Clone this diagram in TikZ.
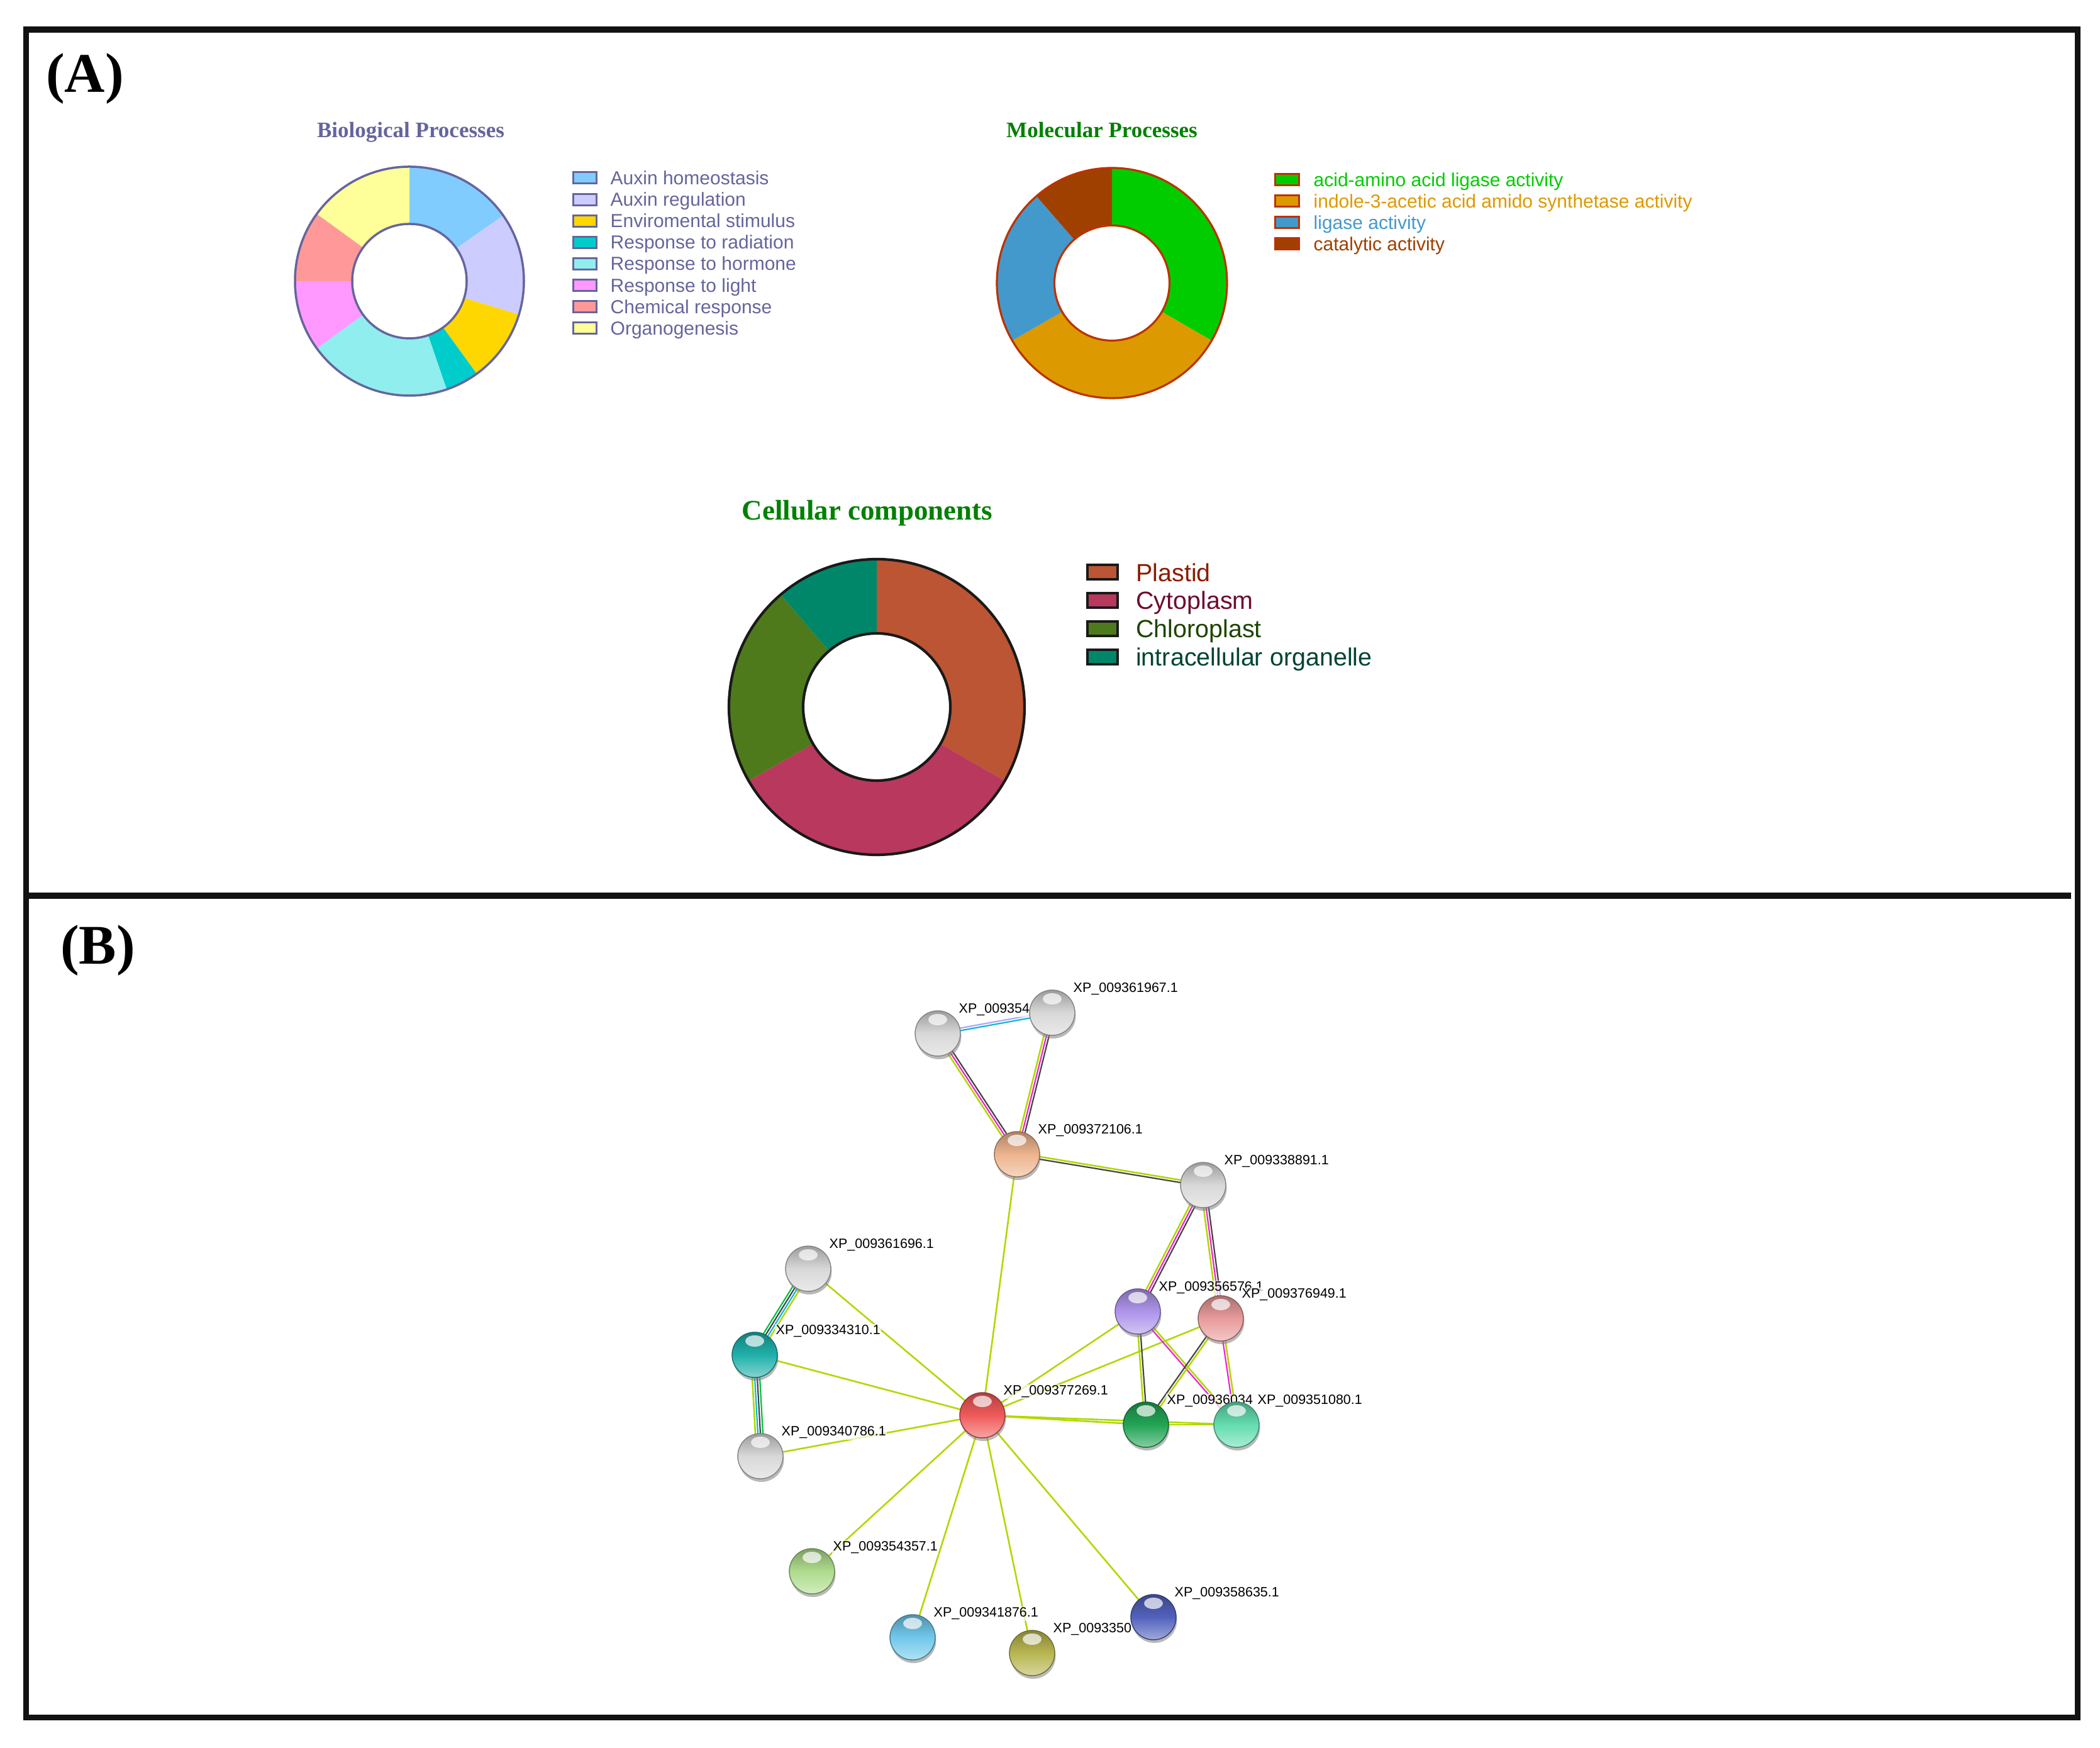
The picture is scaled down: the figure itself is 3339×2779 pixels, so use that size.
\documentclass[tikz,border=0pt]{standalone}
\usepackage{fontspec}
\setmainfont{Liberation Serif}
\setsansfont{Liberation Sans}
\usepackage{tikz}
\usetikzlibrary{calc,positioning,shadows}
\pgfdeclarelayer{edges}
\pgfdeclarelayer{labels}
\pgfsetlayers{edges,labels,main}

\definecolor{bioInk}{HTML}{65659D}
\definecolor{bioHom}{HTML}{80CCFF}
\definecolor{bioReg}{HTML}{CCCCFF}
\definecolor{bioEnv}{HTML}{FFD700}
\definecolor{bioRad}{HTML}{00CCCC}
\definecolor{bioHor}{HTML}{90EEEE}
\definecolor{bioLig}{HTML}{FF99FF}
\definecolor{bioChe}{HTML}{FF9999}
\definecolor{bioOrg}{HTML}{FFFF99}
\definecolor{molInk}{HTML}{BB3300}
\definecolor{molLig}{HTML}{00CC00}
\definecolor{molIaa}{HTML}{DD9900}
\definecolor{molGen}{HTML}{4499CC}
\definecolor{molCat}{HTML}{A04000}
\definecolor{ttlGreen}{HTML}{008000}
\definecolor{celPla}{HTML}{BB5533}
\definecolor{celCyt}{HTML}{B9385E}
\definecolor{celChl}{HTML}{4E7A1C}
\definecolor{celOrg}{HTML}{00876A}
\definecolor{celPlaT}{HTML}{8B1C00}
\definecolor{celCytT}{HTML}{6E0A30}
\definecolor{celChlT}{HTML}{1F4400}
\definecolor{celOrgT}{HTML}{004434}
\definecolor{tmCol}{HTML}{B0D800}
\definecolor{cxCol}{HTML}{444444}
\definecolor{exCol}{HTML}{F020D8}
\definecolor{dbCol}{HTML}{10B4D8}
\definecolor{nbCol}{HTML}{00C040}
\definecolor{hmCol}{HTML}{A8A8FF}
\definecolor{protGray}{HTML}{D8D8D8}
\definecolor{protPeach}{HTML}{EDB48E}
\definecolor{protTeal}{HTML}{20B0AA}
\definecolor{protRed}{HTML}{F05A5A}
\definecolor{protPurple}{HTML}{AE94EA}
\definecolor{protPink}{HTML}{E89A9A}
\definecolor{protGreen}{HTML}{22A455}
\definecolor{protAqua}{HTML}{64DDB0}
\definecolor{protLime}{HTML}{AEDC8C}
\definecolor{protSky}{HTML}{70C8EA}
\definecolor{protOlive}{HTML}{B8B650}
\definecolor{protNavy}{HTML}{5262BC}

\begin{document}
\begin{tikzpicture}[x=1pt, y=1pt]
  \tikzstyle{frame}=[draw=black!93, line width=9.5]
  \tikzstyle{panel}=[inner sep=0, font=\fontsize{89}{100}\selectfont\bfseries]
  \tikzstyle{ttl}=[inner sep=0, anchor=base, font=\fontsize{35}{40}\selectfont\bfseries]
  \tikzstyle{legtext}=[inner sep=0, anchor=base west, font=\fontsize{30}{34}\selectfont\sffamily]
  \tikzstyle{bioKey}=[draw=bioInk, line width=3, minimum width=37, minimum height=18, inner sep=0]
  \tikzstyle{molKey}=[draw=molInk, line width=3, minimum width=38, minimum height=18, inner sep=0]
  \tikzstyle{celKey}=[draw=black!90, line width=4, minimum width=48, minimum height=23, inner sep=0]
  \tikzstyle{plabel}=[inner sep=1.5, fill=white, fill opacity=0.7, text opacity=1, font=\fontsize{21.5}{24}\selectfont\sffamily]
  \tikzstyle{tm}=[draw=tmCol, line width=2.6]
  \tikzstyle{cx}=[draw=cxCol, line width=2.2]
  \tikzstyle{ex}=[draw=exCol, line width=2.2]
  \tikzstyle{db}=[draw=dbCol, line width=2.2]
  \tikzstyle{nb}=[draw=nbCol, line width=2.2]
  \tikzstyle{hm}=[draw=hmCol, line width=2.2]
  \tikzset{prot/.style={circle, minimum size=72, inner sep=0, line width=1.4,
      draw=#1!60!black, top color=#1!72!black, bottom color=#1!55!white, middle color=#1,
      drop shadow={shadow xshift=1.5, shadow yshift=-5, opacity=0.55},
      path picture={\fill[white, fill opacity=0.7] ([yshift=-14]path picture bounding box.north) ellipse (15 and 9);}}}

  \useasboundingbox (0,0) rectangle (3339,2779);

  % frames
  \draw[frame] (41.5,48.5) rectangle (3303.5,2732);
  \draw[frame] (41.5,1355) -- (3293,1355);
  \node[panel, anchor=base west] (pa) at (73,2632) {(A)};
  \node[panel, anchor=base west] (pb) at (96,1246) {(B)};

  % biological processes
  \node[ttl, text=bioInk] (bt) at (653,2560) {Biological Processes};
  \begin{scope}[shift={(651,2332)}]
    \foreach \s/\e/\c in {90/35/bioHom, 35/-17/bioReg, -17/-54/bioEnv, -54/-71/bioRad,
        -71/-144/bioHor, -144/-180/bioLig, 180/144/bioChe, 144/90/bioOrg}
      \fill[\c] (\s:182) arc[start angle=\s, end angle=\e, radius=182]
        -- (\e:91) arc[start angle=\e, end angle=\s, radius=91] -- cycle;
    \draw[bioInk, line width=3.5] (0,0) circle (182) (0,0) circle (91);
  \end{scope}
  \foreach \c/\t [count=\i] in {bioHom/Auxin homeostasis, bioReg/Auxin regulation,
      bioEnv/Enviromental stimulus, bioRad/Response to radiation, bioHor/Response to hormone,
      bioLig/Response to light, bioChe/Chemical response, bioOrg/Organogenesis} {
    \node[bioKey, fill=\c] (bk\i) at (929.5,2530.1-34.1*\i) {};
    \node[legtext, text=bioInk, right=21pt of bk\i, anchor=base west, yshift=-10.6] {\t};
  }

  % molecular processes
  \node[ttl, text=ttlGreen] (mt) at (1752,2560) {Molecular Processes};
  \begin{scope}[shift={(1768,2329)}]
    \foreach \s/\e/\c in {90/-30/molLig, -30/-150/molIaa, 210/131/molGen, 131/90/molCat}
      \fill[\c] (\s:183) arc[start angle=\s, end angle=\e, radius=183]
        -- (\e:91.5) arc[start angle=\e, end angle=\s, radius=91.5] -- cycle;
    \draw[molInk, line width=3.2] (0,0) circle (183) (0,0) circle (91.5);
  \end{scope}
  \foreach \c/\t [count=\i] in {molLig/acid-amino acid ligase activity,
      molIaa/indole-3-acetic acid amido synthetase activity,
      molGen/ligase activity, molCat/catalytic activity} {
    \node[molKey, fill=\c] (mk\i) at (2046,2527.4-34.1*\i) {};
    \node[legtext, text=\c, right=22pt of mk\i, anchor=base west, yshift=-10.7] {\t};
  }

  % cellular components
  \node[ttl, text=ttlGreen, font=\fontsize{45}{50}\selectfont\bfseries] (ct) at (1379,1952) {Cellular components};
  \begin{scope}[shift={(1394,1655)}]
    \foreach \s/\e/\c in {90/-30/celPla, -30/-150/celCyt, 210/130.5/celChl, 130.5/90/celOrg}
      \fill[\c] (\s:235) arc[start angle=\s, end angle=\e, radius=235]
        -- (\e:117) arc[start angle=\e, end angle=\s, radius=117] -- cycle;
    \draw[black!90, line width=4.2] (0,0) circle (235) (0,0) circle (117);
  \end{scope}
  \foreach \c/\tc/\t [count=\i] in {celPla/celPlaT/Plastid, celCyt/celCytT/Cytoplasm,
      celChl/celChlT/Chloroplast, celOrg/celOrgT/intracellular organelle} {
    \node[celKey, fill=\c] (ck\i) at (1753,1913.7-44.7*\i) {};
    \node[legtext, text=\tc, font=\fontsize{39.5}{44}\selectfont\sffamily,
      right=27pt of ck\i, anchor=base west, yshift=-14.1] {\t};
  }

  % protein network
  \node[prot=protGray]   (n54) at (1491,1136) {};
  \node[prot=protGray]   (n67) at (1673,1169) {};
  \node[prot=protPeach]  (n06) at (1617,944) {};
  \node[prot=protGray]   (n91) at (1913,895) {};
  \node[prot=protGray]   (n96) at (1285,762) {};
  \node[prot=protTeal]   (n10) at (1200,625) {};
  \node[prot=protGray]   (n86) at (1209,464) {};
  \node[prot=protRed]    (n69) at (1562,529) {};
  \node[prot=protPurple] (n76) at (1809,694) {};
  \node[prot=protPink]   (n49) at (1941,683) {};
  \node[prot=protGreen]  (n34) at (1822,514) {};
  \node[prot=protAqua]   (n80) at (1966,514) {};
  \node[prot=protLime]   (n57) at (1291,281) {};
  \node[prot=protSky]    (n41) at (1451,176) {};
  \node[prot=protOlive]  (n50) at (1641,151) {};
  \node[prot=protNavy]   (n35) at (1834,208) {};

  \begin{pgfonlayer}{edges}
    \foreach \a/\b/\s/\o in {n69/n96/tm/0pt, n69/n10/tm/0pt, n69/n86/tm/0pt, n69/n06/tm/0pt,
        n69/n76/tm/0pt, n69/n49/tm/0pt, n69/n34/tm/0pt, n69/n80/tm/0pt, n34/n80/tm/0pt,
        n69/n57/tm/0pt, n69/n41/tm/0pt, n69/n50/tm/0pt, n69/n35/tm/0pt,
        n54/n67/hm/2pt, n54/n67/db/-2pt,
        n54/n06/tm/-4pt, n54/n06/ex/0pt, n54/n06/cx/4pt,
        n67/n06/tm/-4pt, n67/n06/ex/0pt, n67/n06/cx/4pt,
        n06/n91/tm/2pt, n06/n91/cx/-2pt,
        n91/n76/tm/-4pt, n91/n76/ex/0pt, n91/n76/cx/4pt,
        n91/n49/tm/-4pt, n91/n49/ex/0pt, n91/n49/cx/4pt,
        n96/n10/nb/-6pt, n96/n10/cx/-2pt, n96/n10/db/2pt, n96/n10/tm/6pt,
        n10/n86/tm/-6pt, n10/n86/db/-2pt, n10/n86/cx/2pt, n10/n86/nb/6pt,
        n76/n34/tm/-2pt, n76/n34/cx/2pt,
        n76/n80/tm/2pt, n76/n80/ex/-2pt,
        n49/n34/tm/2pt, n49/n34/cx/-2pt,
        n49/n80/tm/2pt, n49/n80/ex/-2pt}
      \draw[\s] ($(\a)!\o!90:(\b)$) -- ($(\b)!\o!-90:(\a)$);
  \end{pgfonlayer}

  \begin{pgfonlayer}{labels}
    \foreach \n/\t in {n54/XP\_009354, n67/XP\_009361967.1, n06/XP\_009372106.1,
        n91/XP\_009338891.1, n96/XP\_009361696.1, n10/XP\_009334310.1,
        n86/XP\_009340786.1, n69/XP\_009377269.1, n76/XP\_009356576.1,
        n49/XP\_009376949.1, n34/XP\_00936034, n80/XP\_009351080.1,
        n57/XP\_009354357.1, n41/XP\_009341876.1, n50/XP\_0093350,
        n35/XP\_009358635.1}
      \node[plabel, above right=32pt and 32pt of \n.center, anchor=base west] (l\n) {\t};
  \end{pgfonlayer}
\end{tikzpicture}
\end{document}
